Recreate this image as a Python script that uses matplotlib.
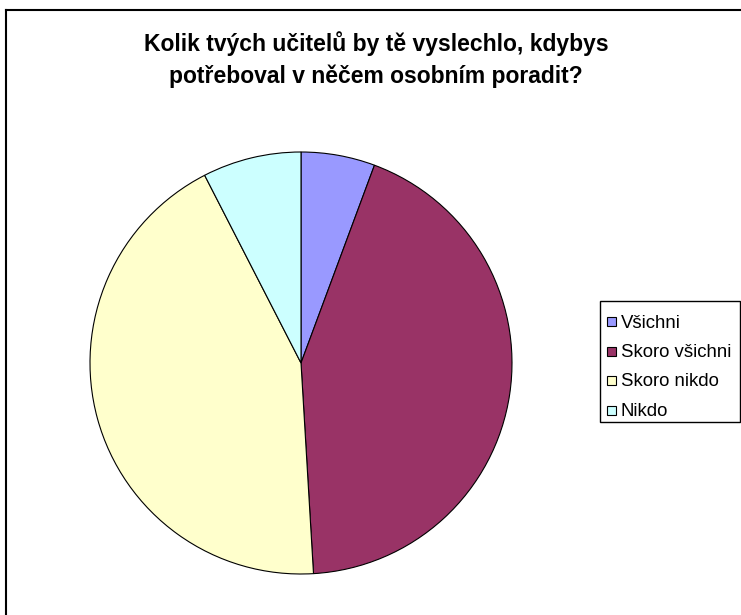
import matplotlib.pyplot as plt
from matplotlib.patches import Rectangle
from matplotlib.lines import Line2D

plt.rcParams['font.family'] = ['Liberation Sans', 'DejaVu Sans']

labels = ['Všichni', 'Skoro všichni', 'Skoro nikdo', 'Nikdo']
counts = [3, 23, 23, 4]
colors = ['#9999FF', '#993366', '#FFFFCC', '#CCFFFF']
title_lines = ['Kolik tvých učitelů by tě vyslechlo, kdybys',
               'potřeboval v něčem osobním poradit?']

W, H = 741, 615
fig = plt.figure(figsize=(W / 100, H / 100), dpi=100)


def fx(px):
    return px / W


def fy(py):
    # pixel row from top -> figure fraction
    return 1 - py / H


# outer chart border (only top and left visible, rest is cropped)
fig.add_artist(Line2D([fx(6), fx(6)], [0, fy(10)], color='black', lw=1.5, transform=fig.transFigure))
fig.add_artist(Line2D([fx(6), 1], [fy(10), fy(10)], color='black', lw=1.5, transform=fig.transFigure))

cx, cy, r = 301, 363, 211
ax = fig.add_axes([fx(cx - r), fy(cy + r), 2 * r / W, 2 * r / H])
ax.pie(counts, colors=colors, startangle=90, counterclock=False,
       wedgeprops=dict(edgecolor='black', linewidth=0.8))
ax.set_xlim(-1, 1)
ax.set_ylim(-1, 1)
ax.set_aspect('equal')
ax.axis('off')

# title, two lines on their baselines
for line, base in zip(title_lines, [51, 83]):
    fig.text(fx(376), fy(base), line, ha='center', va='baseline',
             fontsize=16.5, fontweight='bold')

# legend box drawn by hand to match the original spacing
fig.add_artist(Rectangle((fx(600), fy(422)), fx(740) - fx(600), fy(301) - fy(422),
                         transform=fig.transFigure, facecolor='white',
                         edgecolor='black', lw=1.0))
for i, (lab, col) in enumerate(zip(labels, colors)):
    yc = 321.5 + 29.5 * i
    fig.add_artist(Rectangle((fx(607), fy(yc + 4.5)), 9 / W, 9 / H,
                             transform=fig.transFigure, facecolor=col,
                             edgecolor='black', lw=0.8))
    fig.text(fx(621), fy(yc + 6), lab, ha='left', va='baseline', fontsize=13.4)

fig.savefig('out.png', dpi=100)
